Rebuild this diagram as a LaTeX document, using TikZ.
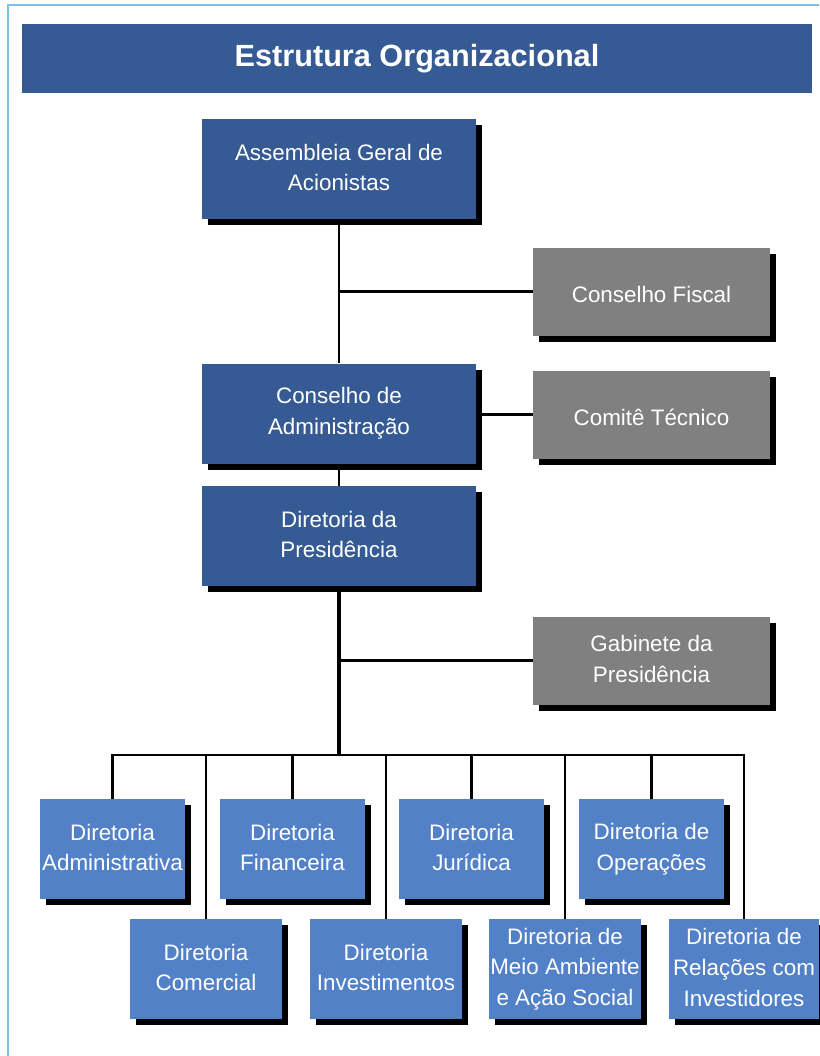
\documentclass[tikz,border=0pt]{standalone}
\usepackage{fontspec}
\setmainfont{Liberation Sans}
\usetikzlibrary{shadows}
\definecolor{darkbox}{RGB}{54,90,147}
\definecolor{lightbox}{RGB}{82,129,199}
\definecolor{greybox}{RGB}{128,128,128}
\definecolor{frameblue}{RGB}{122,192,224}
\newcommand\upstrut{\rule{0pt}{18.8pt}}
\newcommand\downstrut{\rule[-2.6pt]{0pt}{2.6pt}}

\begin{document}
\begin{tikzpicture}[x=0.75pt,y=-0.75pt,
    box/.style={text=white,inner sep=0pt,align=center,
      font=\fontsize{16.8}{23}\selectfont,
      execute at begin node=\upstrut,execute at end node=\downstrut,
      drop shadow={shadow xshift=4.5pt,shadow yshift=-4.5pt,fill=black,opacity=1}},
    bigbox/.style={box,fill=darkbox,minimum width={274*0.75pt},minimum height={100*0.75pt}},
    sidebox/.style={box,fill=greybox,minimum width={237*0.75pt},minimum height={88*0.75pt}},
    topbox/.style={box,fill=lightbox,minimum width={145*0.75pt},minimum height={100*0.75pt}},
    lowbox/.style={box,fill=lightbox,minimum width={152*0.75pt},minimum height={100*0.75pt}},
    link/.style={line width=2pt}]
          \useasboundingbox (0,0) rectangle (819,1056);
          \draw[frameblue,line width=1.6pt] (8,1056)--(8,5)--(819,5);

          \node[fill=darkbox,text=white,minimum width={790*0.75pt},minimum height={69*0.75pt},
            font=\fontsize{23}{28}\selectfont\bfseries] (title) at (417,58.5) {Estrutura Organizacional};

          \node[bigbox] (ag) at (339,169) {Assembleia Geral de\\Acionistas};
          \node[sidebox] (cf) at (651.5,291.5) {Conselho Fiscal};
          \node[bigbox] (ca) at (339,413.5) {Conselho de\\Administração};
          \node[sidebox] (ct) at (651.5,414.5) {Comitê Técnico};
          \node[bigbox] (dp) at (339,536) {Diretoria da\\Presidência};
          \node[sidebox] (gp) at (651.5,660.5) {Gabinete da\\Presidência};

          \node[topbox] (adm) at (112.5,849) {Diretoria\\Administrativa};
          \node[topbox] (fin) at (292.5,849) {Diretoria\\Financeira};
          \node[topbox] (jur) at (471.5,849) {Diretoria\\Jurídica};
          \node[topbox] (ope) at (651.5,849) {Diretoria de\\Operações};

          \node[lowbox] (com) at (206,969) {Diretoria\\Comercial};
          \node[lowbox] (inv) at (386,969) {Diretoria\\Investimentos};
          \node[lowbox] (mei) at (565,969) {Diretoria de\\Meio Ambiente\\e Ação Social};
          \node[lowbox,minimum width={150*0.75pt}] (rel) at (744,969) {Diretoria de\\Relações com\\Investidores};

          \coordinate (bus) at (339,755);

          \draw[link] (ag.south) -- (ca.north);
          \draw[link] (cf.west) -- (cf.west -| ag.south);
          \draw[link] (ct.west) -- (ct.west -| ca.east);
          \draw[link] (ca.south) -- (dp.north);
          \draw[link] (gp.west) -- (gp.west -| dp.south);
          \draw[line width=3pt] (dp.south) -- (bus);
          \foreach \d in {adm,fin,jur,ope,com,inv,mei,rel}
            \draw[link] (bus) -| (\d.north);
        \end{tikzpicture}
\end{document}
